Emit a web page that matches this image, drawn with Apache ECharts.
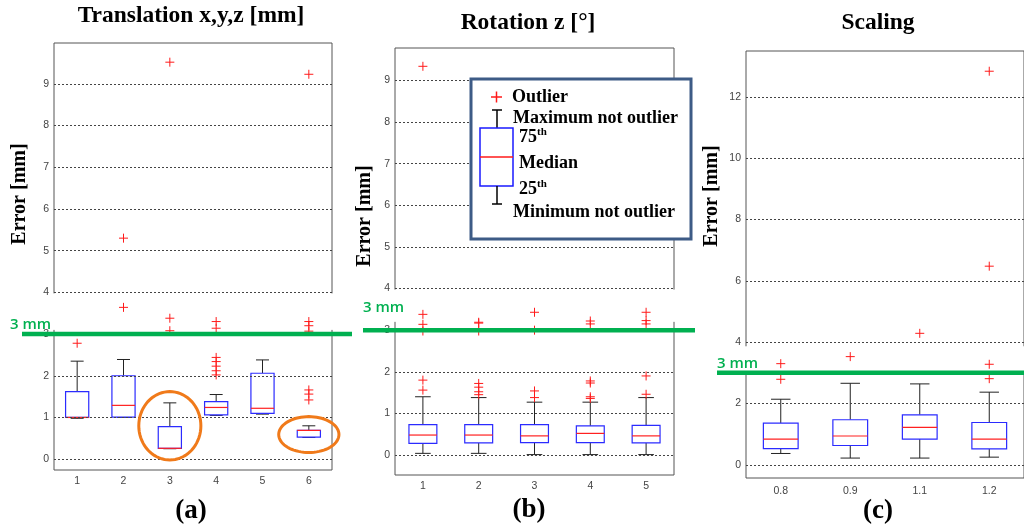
<!DOCTYPE html>
<html>
<head>
<meta charset="utf-8">
<script src="https://cdn.jsdelivr.net/npm/echarts@6/dist/echarts.min.js"></script>
<style>
html,body{margin:0;padding:0;background:#fff}
#c{width:1024px;height:526px}
</style>
</head>
<body>
<div id="c"></div>
<script>
// ---- data ----
// box rows: [min, q1, median, q3, max]
const catsA = ['1', '2', '3', '4', '5', '6'];
const boxA = [
  [0.98, 1.00, 1.00, 1.62, 2.35],
  [1.00, 1.01, 1.29, 2.00, 2.39],
  [0.25, 0.26, 0.26, 0.78, 1.35],
  [1.05, 1.06, 1.24, 1.38, 1.55],
  [1.08, 1.10, 1.22, 2.06, 2.38],
  [0.52, 0.53, 0.69, 0.69, 0.80]
];
// outliers: [category index, value]
const outA = [
  [0, 2.78],
  [1, 3.64], [1, 5.30],
  [2, 3.08], [2, 3.38], [2, 9.52],
  [3, 2.02], [3, 2.12], [3, 2.23], [3, 2.34], [3, 2.44], [3, 3.14], [3, 3.30],
  [5, 1.42], [5, 1.56], [5, 1.66], [5, 3.07], [5, 3.20], [5, 3.30], [5, 9.23]
];
const ticksA = [0, 1, 2, 3, 4, 5, 6, 7, 8, 9];

const catsB = ['1', '2', '3', '4', '5'];
const boxB = [
  [0.04, 0.28, 0.48, 0.73, 1.40],
  [0.04, 0.29, 0.48, 0.73, 1.38],
  [0.01, 0.30, 0.46, 0.73, 1.27],
  [0.01, 0.30, 0.52, 0.70, 1.27],
  [0.01, 0.29, 0.46, 0.71, 1.38]
];
const outB = [
  [0, 1.56], [0, 1.80], [0, 2.98], [0, 3.14], [0, 3.38], [0, 9.34],
  [1, 1.45], [1, 1.52], [1, 1.63], [1, 1.72], [1, 2.98], [1, 3.17], [1, 3.19],
  [2, 1.38], [2, 1.54], [2, 3.00], [2, 3.43],
  [3, 1.36], [3, 1.40], [3, 1.73], [3, 1.78], [3, 3.15], [3, 3.22],
  [4, 1.46], [4, 1.90], [4, 3.15], [4, 3.23], [4, 3.43]
];
const ticksB = [0, 1, 2, 3, 4, 5, 6, 7, 8, 9];

const catsC = ['0.8', '0.9', '1.1', '1.2'];
const boxC = [
  [0.37, 0.53, 0.84, 1.36, 2.14],
  [0.22, 0.63, 0.94, 1.47, 2.66],
  [0.22, 0.84, 1.22, 1.63, 2.64],
  [0.25, 0.52, 0.84, 1.38, 2.37]
];
const outC = [
  [0, 2.79], [0, 3.30],
  [1, 3.53],
  [2, 4.29],
  [3, 2.81], [3, 3.28], [3, 6.48], [3, 12.84]
];
const ticksC = [0, 2, 4, 6, 8, 10, 12];

const limitMM = 3;

// ---- styling ----
const BOX_BLUE = '#2b2bff';
const MED_RED = '#ff2020';
const WHISK = '#222';
const OUT_RED = '#ff1a1a';
const GREEN = '#00b050';
const ORANGE = '#f07a1a';
const SERIF = '"Liberation Serif", "Times New Roman", serif';
const SANS = '"Liberation Sans", Arial, sans-serif';

const chart = echarts.init(document.getElementById('c'));

const grids = [
  { left: 54, top: 43, width: 278, height: 427 },
  { left: 395, top: 48, width: 279, height: 427 },
  { left: 746, top: 51, width: 279, height: 427 }
];
const yRanges = [[-0.26, 9.98], [-0.48, 9.78], [-0.43, 13.5]];
const cats = [catsA, catsB, catsC];
const boxes = [boxA, boxB, boxC];
const outs = [outA, outB, outC];
const ticks = [ticksA, ticksB, ticksC];
const xLabelMargin = [6, 6, 8];

function boxRender(params, api) {
  const x = api.value(0);
  const lo = api.coord([x, api.value(1)]);
  const q1 = api.coord([x, api.value(2)]);
  const md = api.coord([x, api.value(3)]);
  const q3 = api.coord([x, api.value(4)]);
  const hi = api.coord([x, api.value(5)]);
  const band = api.size([1, 0])[0];
  const bw = band * 0.5;
  const cw = band * 0.28;
  const cx = md[0];
  const ls = { stroke: WHISK, lineWidth: 1 };
  const children = [
    { type: 'line', shape: { x1: cx, y1: hi[1], x2: cx, y2: q3[1] }, style: ls },
    { type: 'line', shape: { x1: cx - cw / 2, y1: hi[1], x2: cx + cw / 2, y2: hi[1] }, style: ls },
    { type: 'line', shape: { x1: cx, y1: q1[1], x2: cx, y2: lo[1] }, style: ls },
    { type: 'line', shape: { x1: cx - cw / 2, y1: lo[1], x2: cx + cw / 2, y2: lo[1] }, style: ls },
    { type: 'rect', shape: { x: cx - bw / 2, y: q3[1], width: bw, height: q1[1] - q3[1] },
      style: { fill: '#fff', stroke: BOX_BLUE, lineWidth: 1.2 } },
    { type: 'line', shape: { x1: cx - bw / 2, y1: md[1], x2: cx + bw / 2, y2: md[1] },
      style: { stroke: MED_RED, lineWidth: 1.2 } }
  ];
  return { type: 'group', children };
}

function outRender(params, api) {
  const p = api.coord([api.value(0), api.value(1)]);
  const h = 4.5;
  const st = { stroke: OUT_RED, lineWidth: 1 };
  return {
    type: 'group',
    children: [
      { type: 'line', shape: { x1: p[0] - h, y1: p[1], x2: p[0] + h, y2: p[1] }, style: st },
      { type: 'line', shape: { x1: p[0], y1: p[1] - h, x2: p[0], y2: p[1] + h }, style: st }
    ]
  };
}

// ellipse highlighting a box, sized in category bands / value units
function ellipseRender(params, api) {
  const c = api.coord([api.value(0), api.value(1)]);
  const band = api.size([1, 0])[0];
  const rx = band * api.value(2);
  const ry = api.size([0, api.value(3)])[1];
  const pts = [];
  for (let i = 0; i < 72; i++) {
    const t = (i / 72) * Math.PI * 2;
    pts.push([c[0] + rx * Math.cos(t), c[1] + ry * Math.sin(t)]);
  }
  return { type: 'polygon', shape: { points: pts },
    style: { fill: 'none', stroke: ORANGE, lineWidth: 3 } };
}
// [category index, centre value, x radius (bands), y radius (units)]
const highlightA = [[2, 0.80, 0.67, 0.82], [5, 0.59, 0.65, 0.43]];

const xAxis = [], yAxis = [], series = [];
for (let i = 0; i < 3; i++) {
  xAxis.push({
    type: 'category', gridIndex: i, data: cats[i], boundaryGap: true,
    axisLine: { show: false }, axisTick: { show: false },
    axisLabel: { color: '#444', fontFamily: SANS, fontSize: 10.5, margin: xLabelMargin[i] },
    splitLine: { show: false }
  });
  yAxis.push({
    type: 'value', gridIndex: i, min: yRanges[i][0], max: yRanges[i][1],
    axisLine: { show: false },
    axisTick: { show: false },
    splitLine: { show: false },
    axisLabel: { customValues: ticks[i], color: '#444', fontFamily: SANS, fontSize: 10.5, margin: 5 }
  });
  series.push({
    type: 'line', xAxisIndex: i, yAxisIndex: i, data: [], silent: true, z: 1,
    markLine: {
      silent: true, symbol: ['none', 'none'], label: { show: false },
      lineStyle: { color: '#444', type: [2, 2], width: 1 },
      data: ticks[i].map(v => ({ yAxis: v }))
    }
  });
  series.push({
    type: 'custom', xAxisIndex: i, yAxisIndex: i, z: 3,
    renderItem: boxRender,
    encode: { x: 0, y: [1, 2, 3, 4, 5] },
    data: boxes[i].map((b, k) => [k].concat(b))
  });
  series.push({
    type: 'custom', xAxisIndex: i, yAxisIndex: i, z: 4,
    renderItem: outRender,
    encode: { x: 0, y: 1 },
    data: outs[i]
  });
}
series.push({
  type: 'custom', xAxisIndex: 0, yAxisIndex: 0, z: 5, silent: true,
  renderItem: ellipseRender,
  encode: { x: 0, y: 1 },
  data: highlightA
});

chart.setOption({
  animation: false,
  backgroundColor: '#fff',
  grid: grids.map(g => Object.assign({ show: true, borderColor: '#555', borderWidth: 1,
    backgroundColor: 'transparent', containLabel: false }, g)),
  xAxis, yAxis, series
});

// ---- annotations: axis breaks, 3 mm limit, titles, legend ----
function py(i, v) { return chart.convertToPixel({ yAxisIndex: i }, v); }

const g = [];
// breaks in the frame sides
const breaks = [[4.0, 3.1], [4.0, 3.2], [3.9, 3.0]];
for (let i = 0; i < 3; i++) {
  const y1 = py(i, breaks[i][0]) + 1, y2 = py(i, breaks[i][1]);
  const sides = [grids[i].left, grids[i].left + grids[i].width];
  sides.forEach(x => g.push({ type: 'rect', z: 50,
    shape: { x: x - 2, y: y1, width: 4, height: y2 - y1 }, style: { fill: '#fff' } }));
}
// 3 mm limit lines
const limitSpan = [[22, 352, 10, -9], [363, 695, 363, -22], [717, 1024, 717, -9]];
for (let i = 0; i < 3; i++) {
  const y = py(i, limitMM);
  const s = limitSpan[i];
  g.push({ type: 'line', z: 60, shape: { x1: s[0], y1: y, x2: s[1], y2: y },
    style: { stroke: GREEN, lineWidth: 4.5 } });
  g.push({ type: 'text', z: 61, x: s[2], y: y + s[3],
    style: { text: '3 mm', fill: GREEN, font: '600 15px "Open Sans", sans-serif',
      textAlign: 'left', textVerticalAlign: 'middle' } });
}
// titles
const titles = [['Translation x,y,z [mm]', 191, 16], ['Rotation z [°]', 528, 23], ['Scaling', 878, 23]];
titles.forEach(t => g.push({ type: 'text', z: 70, x: t[1], y: t[2],
  style: { text: t[0], fill: '#000', font: 'bold 23.5px ' + SERIF, textAlign: 'center', textVerticalAlign: 'middle' } }));
// panel letters
[['(a)', 191, 511], ['(b)', 529, 510], ['(c)', 878, 511]].forEach(t => g.push({
  type: 'text', z: 70, x: t[1], y: t[2],
  style: { text: t[0], fill: '#000', font: 'bold 27px ' + SERIF, textAlign: 'center', textVerticalAlign: 'middle' } }));
// vertical axis names
[[20, 194], [365, 216], [712, 196]].forEach(p => g.push({
  type: 'text', z: 70, x: p[0], y: p[1], rotation: Math.PI / 2,
  style: { text: 'Error [mm]', fill: '#000', font: 'bold 20px ' + SERIF, textAlign: 'center', textVerticalAlign: 'middle' } }));

// legend panel describing the box elements
const L = { x: 471, y: 79, w: 220, h: 160 };
const lf = 'bold 18px ' + SERIF;
g.push({ type: 'rect', z: 80, shape: { x: L.x, y: L.y, width: L.w, height: L.h },
  style: { fill: '#fff', stroke: '#3d5b86', lineWidth: 3 } });
g.push({ type: 'line', z: 81, shape: { x1: 491, y1: 97, x2: 502, y2: 97 }, style: { stroke: OUT_RED, lineWidth: 1.5 } });
g.push({ type: 'line', z: 81, shape: { x1: 496.5, y1: 91.5, x2: 496.5, y2: 102.5 }, style: { stroke: OUT_RED, lineWidth: 1.5 } });
g.push({ type: 'line', z: 81, shape: { x1: 492, y1: 110, x2: 502, y2: 110 }, style: { stroke: '#000', lineWidth: 1.5 } });
g.push({ type: 'line', z: 81, shape: { x1: 497, y1: 110, x2: 497, y2: 128 }, style: { stroke: '#000', lineWidth: 1.5 } });
g.push({ type: 'rect', z: 81, shape: { x: 480, y: 128, width: 33, height: 58 }, style: { fill: '#fff', stroke: '#1a1aff', lineWidth: 1.5 } });
g.push({ type: 'line', z: 82, shape: { x1: 480, y1: 157, x2: 513, y2: 157 }, style: { stroke: OUT_RED, lineWidth: 1.5 } });
g.push({ type: 'line', z: 81, shape: { x1: 497, y1: 186, x2: 497, y2: 204 }, style: { stroke: '#000', lineWidth: 1.5 } });
g.push({ type: 'line', z: 81, shape: { x1: 492, y1: 204, x2: 502, y2: 204 }, style: { stroke: '#000', lineWidth: 1.5 } });
[['Outlier', 512, 97], ['Maximum not outlier', 513, 118], ['Median', 519, 163], ['Minimum not outlier', 513, 212]].forEach(t =>
  g.push({ type: 'text', z: 82, x: t[1], y: t[2],
    style: { text: t[0], fill: '#000', font: lf, textAlign: 'left', textVerticalAlign: 'middle' } }));
[['75', 519, 137], ['25', 519, 189]].forEach(t =>
  g.push({ type: 'text', z: 82, x: t[1], y: t[2],
    style: { text: '{n|' + t[0] + '}{s|th}', textAlign: 'left', textVerticalAlign: 'middle',
      rich: { n: { font: lf, fill: '#000' }, s: { font: 'bold 11px ' + SERIF, fill: '#000', verticalAlign: 'top', padding: [0, 0, 9, 0] } } } }));

chart.setOption({ graphic: g });
</script>
</body>
</html>
